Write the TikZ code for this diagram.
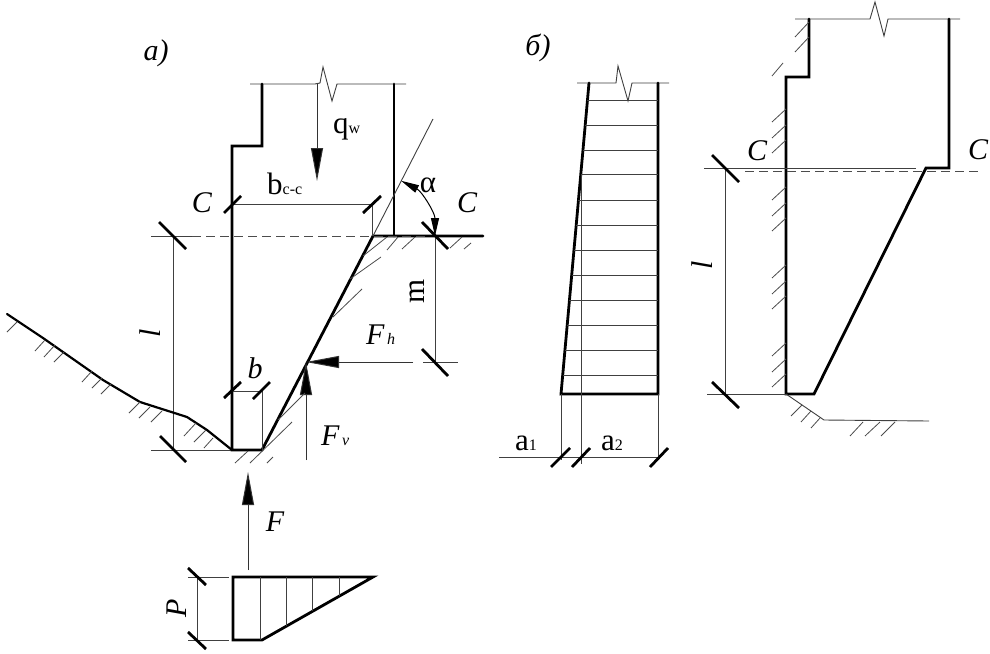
\documentclass[tikz,border=0pt]{standalone}
\usepackage{fontspec}
\setmainfont{Liberation Serif}
\usetikzlibrary{arrows.meta}
\newcommand{\fsz}[1]{\fontsize{#1}{#1}\selectfont}
\tikzset{
  wall/.style={line width=2.8pt,line join=miter,line cap=round},
  thin line/.style={line width=0.9pt,draw=black!75},
  hatch/.style={line width=0.8pt,draw=black!70},
  tick/.style={line width=2.8pt},
  dashline/.style={line width=0.9pt,draw=black!70,dash pattern=on 9pt off 5pt},
  force/.style={line width=1pt,draw=black!80,-{Triangle[length=33pt,width=12pt,fill=black]}},
  angle tip/.style={line width=1pt,{Triangle[length=18pt,width=8pt,fill=black]}-{Triangle[length=18pt,width=8pt,fill=black]}},
  ital/.style={inner sep=0pt,font=\fsz{30}\itshape},
  upr/.style={inner sep=0pt,font=\fsz{31}}
}
\newcommand{\sbs}[1]{{\fsz{16}#1}}
\begin{document}
\begin{tikzpicture}[x=1pt,y=-1pt]
\useasboundingbox (0,0) rectangle (990,653);
\fill[white] (0,0) rectangle (990,653);
% ---------- figure a ----------
\coordinate (wt) at (262,84);
\coordinate (wr) at (394,84);
\coordinate (toe) at (262,450);
\coordinate (heel) at (232,450);
\coordinate (sl) at (373,236);
\coordinate (fpt) at (306,362);
\draw[thin line] (250,84) -- (315,84) -- (320,83) -- (323,67) -- (332,101) -- (337,84) -- (406,84);
\draw[wall] (wt) -- (262,146) -- (232,146) -- (heel) -- (toe) -- (sl) -- (483,236);
\draw[wall] (wr) -- (394,236);
% slope extension
\draw[thin line] (sl) -- (433,119);
% section line
\draw[thin line] (151,236) -- (192,236);
\draw[dashline] (192,236.5) -- (426,236.5);
% dimension l
\draw[thin line] (173,236) -- (173,450);
\draw[thin line] (151,450) -- (heel);
\draw[tick] (159,222) -- (186,249);
\draw[tick] (160,436) -- (186,462);
\node[ital,rotate=90] (ll) at (150,333) {l};
% dimension m
\draw[thin line] (435,236) -- (435,362);
\draw[thin line] (423,362) -- (458,362);
\draw[tick] (422,222) -- (448,249);
\draw[tick] (422,349) -- (448,376);
\node[upr,rotate=90] (mm) at (417,291) {m};
% dimension b c-c
\draw[thin line] (232,204) -- (372,204) -- (372,236);
\draw[tick] (224,213) -- (241,196);
\draw[tick] (363,213) -- (381,196);
\node[upr,anchor=base west] (bcc) at (267,194) {b\sbs{c-c}};
% dimension b
\draw[thin line] (232,391) -- (262,391) -- (toe);
\draw[tick] (224,398) -- (241,382);
\draw[tick] (253,399) -- (270,382);
\node[ital] (bb) at (255,368) {b};
% q
\draw[force] (317,84) -- (317,181);
\node[upr,anchor=base west] (qw) at (333,133) {q\sbs{w}};
% alpha
\draw[angle tip] (435,236) .. controls (435,212.7) and (421.9,191.4) .. (401.1,180.8);
\node[upr] (al) at (428,185) {α};
\node[ital] (cl) at (202,203) {C};
\node[ital] (cr) at (467,203) {C};
\node[ital] (lab a) at (156,53) {a)};
% forces
\coordinate (fhe) at (413,362);
\coordinate (fve) at (306,460);
\draw[force] (fhe) -- (fpt);
\draw[force] (fve) -- (fpt);
\node[ital,anchor=base west] (fh) at (366,344) {F{\fsz{16}\itshape\,h}};
\node[ital,anchor=base west] (fv) at (321,445) {F{\fsz{16}\itshape\,v}};
% ground left
\draw[line width=2.2pt,line join=round,line cap=round] (7,314) -- (43,338) -- (103,380) -- (140,402) -- (187,417) -- (207,430) -- (heel);
\foreach \a/\b/\c/\d in {7/332/17/322,35/351/45/340,44/357/55/345,54/362/64/352,82/382/92/371,92/388/102/378,101/394/111/384,129/413/140/402,139/418/150/407,151/422/162/411,184/436/196/423,194/442/206/430,204/448/213/438,
  235/463/248/451,250/463/292/422,267/463/273/457,278/420/305/393,333/317/362/289,350/279/381/257,363/256/387/237,387/250/398/237,402/249/415/237,450/248/462/237,464/249/471/243}
  \draw[hatch] (\a,\b) -- (\c,\d);
% F and pressure diagram
\draw[force] (248,570) -- (248,472);
\node[ital] (ff) at (275,522) {F};
\draw[wall] (233,577) -- (373,577) -- (262,640) -- (233,640) -- cycle;
\foreach \x/\y in {260/640,286/626,312/611,339/596}
  \draw[thin line] (\x,577) -- (\x,\y);
\draw[thin line] (188,577) -- (229,577);
\draw[thin line] (188,640) -- (229,640);
\draw[thin line] (197,577) -- (197,640);
\draw[tick] (188,568) -- (206,585);
\draw[tick] (188,632) -- (206,649);
\node[ital,rotate=90] (pp) at (177,608) {P};
% ---------- figure b ----------
\node[ital] (lab b) at (538,48) {б)};
\draw[thin line] (577,83) -- (616,83) -- (618,66) -- (628,101) -- (632,83) -- (669,83);
\draw[wall] (589,83) -- (561,394) -- (658,394) -- (658,83);
\foreach \y in {100,125,150,174,200,225,250,275,300,325,350,375}
  \draw[thin line] ({589-28*(\y-83)/311},\y) -- (658,\y);
\draw[thin line] (561,394) -- (561,460);
\draw[thin line] (581,174) -- (581,464);
\draw[thin line] (658,394) -- (658,460);
\draw[thin line] (499,457) -- (660,457);
\draw[tick] (551,467) -- (570,448);
\draw[tick] (572,467) -- (590,448);
\draw[tick] (650,467) -- (668,448);
\node[upr,anchor=base west] (a1) at (515,450) {a\sbs{1}};
\node[upr,anchor=base west] (a2) at (601,450) {a\sbs{2}};
% ---------- figure c ----------
\draw[thin line] (795,19) -- (870,19) -- (875,2) -- (884,36) -- (888,19) -- (960,19);
\draw[wall] (809,19) -- (809,77) -- (786,77) -- (786,394) -- (814,394) -- (926,168) -- (949,168) -- (949,19);
\draw[thin line] (704,168) -- (916,168);
\draw[dashline] (745,171) -- (980,171);
\draw[thin line] (725,168) -- (725,394);
\draw[thin line] (707,394) -- (786,394);
\draw[tick] (712,155) -- (739,182);
\draw[tick] (712,382) -- (739,408);
\node[ital,rotate=90] (l2) at (702,265) {l};
\node[ital] (c2l) at (757,151) {C};
\node[ital] (c2r) at (978,150) {C};
\draw[thin line] (786,394) -- (824,420) -- (929,421);
\foreach \a/\b/\c/\d in {795/37/809/22,795/52/809/37,772/76/783/63,791/416/802/405,801/422/811/411,811/428/820/418,850/436/863/422,865/436/880/422,881/436/895/422}
  \draw[hatch] (\a,\b) -- (\c,\d);
\foreach \y in {122,138,153,200,216,231,278,294,309,356,372,387}
  \draw[hatch] (772,\y) -- (786,\y-13);
\end{tikzpicture}
\end{document}
